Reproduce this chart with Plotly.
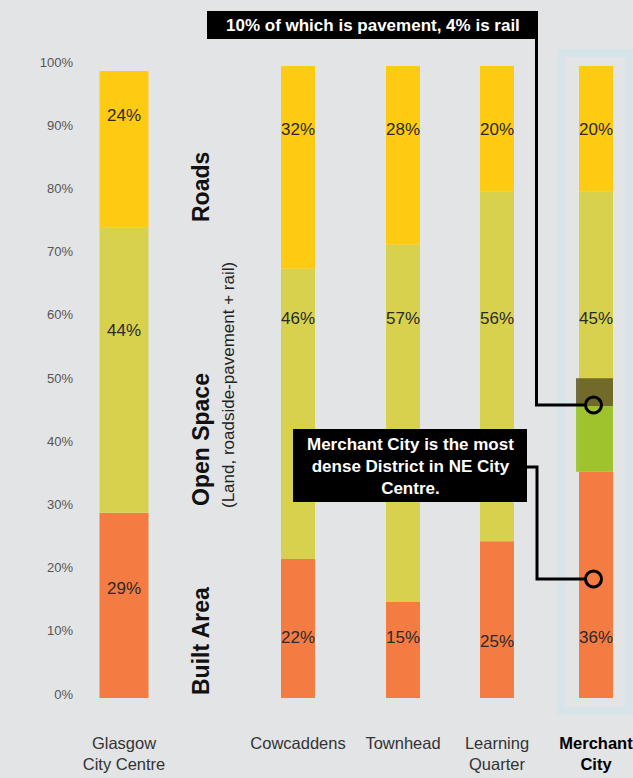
import plotly.graph_objects as go

# ---------------- data ----------------
districts = ["Glasgow<br>City Centre", "Cowcaddens", "Townhead", "Learning<br>Quarter",
             "<b><span style='color:#000'>Merchant<br>City</span></b>"]
built_area = [29.3, 22.0, 15.2, 24.8, 35.8]
open_space = [45.2, 45.9, 56.5, 55.4, 44.4]
roads = [24.7, 32.1, 28.3, 19.8, 19.8]
built_labels = ["29%", "22%", "15%", "25%", "36%"]
open_labels = ["44%", "46%", "57%", "56%", "45%"]
roads_labels = ["24%", "32%", "28%", "20%", "20%"]
mc_pavement = 10.4   # Merchant City open space: pavement
mc_rail = 4.4        # Merchant City open space: rail
y_ticks = [0, 10, 20, 30, 40, 50, 60, 70, 80, 90, 100]
y_tick_labels = [f"{v}%" for v in y_ticks]

# ---------------- layout helpers ----------------
x_pos = [124, 298, 403, 497, 596]
widths = [49, 34, 34, 34, 34]
label_levels = [[17.4, 58.2, 92.2], [9.6, 60.1, 90], [9.6, 60.1, 90], [8.9, 60.1, 90], [9.6, 60.1, 90]]

W, H = 633, 778
L, R, T, B = 80, 0, 40, 58
PW, PH = W - L - R, H - T - B


def PX(x):
    return (x - L) / PW


def PY(y):
    return (H - B - y) / PH


BG = "#e3e4e6"
ORANGE = "#f47c42"
OLIVE = "#d8d14d"
YELLOW = "#fecb12"
FONT = "Liberation Sans, Arial, sans-serif"

fig = go.Figure()
base_open = built_area
base_roads = [b + o for b, o in zip(built_area, open_space)]
fig.add_bar(x=x_pos, y=built_area, base=[0] * 5, width=widths, marker_color=ORANGE,
            marker_line_width=0, name="Built Area")
fig.add_bar(x=x_pos, y=open_space, base=base_open, width=widths, marker_color=OLIVE,
            marker_line_width=0, name="Open Space")
fig.add_bar(x=x_pos, y=roads, base=base_roads, width=widths, marker_color=YELLOW,
            marker_line_width=0, name="Roads")
# Merchant City breakdown overlay
fig.add_bar(x=[x_pos[4] - 1.5], y=[mc_pavement], base=[built_area[4]], width=[37],
            marker_color="rgba(150,192,40,0.88)", marker_line_width=0, name="Pavement")
fig.add_bar(x=[x_pos[4] - 1.5], y=[mc_rail], base=[built_area[4] + mc_pavement], width=[37],
            marker_color="rgba(95,88,35,0.86)", marker_line_width=0, name="Rail")

annotations = []
for i in range(5):
    for lab, lev in zip([built_labels[i], open_labels[i], roads_labels[i]], label_levels[i]):
        annotations.append(dict(x=x_pos[i], y=lev, xref="x", yref="y", text=lab, showarrow=False,
                                xanchor="center", yanchor="middle",
                                font=dict(family=FONT, size=17, color="#2a2a2a")))


def paper_text(text, x, y, size, color, angle=None):
    d = dict(x=PX(x), y=PY(y), xref="paper", yref="paper", text=text, showarrow=False,
             xanchor="center", yanchor="middle", font=dict(family=FONT, size=size, color=color))
    if angle is not None:
        d["textangle"] = angle
    return d


for txt, x, y in [("<b>Roads</b>", 201, 187), ("<b>Open Space</b>", 201, 440), ("<b>Built Area</b>", 201, 641)]:
    annotations.append(paper_text(txt, x, y, 23, "#111", -90))
annotations.append(paper_text("(Land, roadside-pavement + rail)", 228, 385, 17, "#222", -90))
annotations.append(paper_text("<b>10% of which is pavement, 4% is rail</b>", 372.5, 25, 17, "white"))
annotations.append(paper_text("<b>Merchant City is the most<br>dense District in NE City<br>Centre.</b>",
                              410, 466, 17, "white"))

shapes = [
    dict(type="rect", xref="paper", yref="paper", x0=PX(561), x1=PX(629), y0=PY(53), y1=PY(711),
         line=dict(color="#d7e5eb", width=8), fillcolor="rgba(0,0,0,0)", layer="below"),
    dict(type="rect", xref="paper", yref="paper", x0=PX(207), x1=PX(538), y0=PY(11), y1=PY(39),
         line=dict(width=0), fillcolor="black"),
    dict(type="rect", xref="paper", yref="paper", x0=PX(293), x1=PX(527), y0=PY(429), y1=PY(502),
         line=dict(width=0), fillcolor="black"),
    dict(type="path", xref="paper", yref="paper",
         path=f"M {PX(536.5)},{PY(11)} L {PX(536.5)},{PY(405)} L {PX(586)},{PY(405)}",
         line=dict(color="black", width=3)),
    dict(type="path", xref="paper", yref="paper",
         path=f"M {PX(527)},{PY(467)} L {PX(537)},{PY(467)} L {PX(537)},{PY(579)} L {PX(586)},{PY(579)}",
         line=dict(color="black", width=3)),
]
for cy in (405, 579):
    shapes.append(dict(type="circle", xref="paper", yref="paper", xsizemode="pixel", ysizemode="pixel",
                       xanchor=PX(593.5), yanchor=PY(cy), x0=-8, x1=8, y0=-8, y1=8,
                       line=dict(color="black", width=3), fillcolor="rgba(0,0,0,0)"))

fig.update_layout(
    width=W, height=H, margin=dict(l=L, r=R, t=T, b=B),
    paper_bgcolor=BG, plot_bgcolor=BG, barmode="overlay", showlegend=False,
    font=dict(family=FONT),
    annotations=annotations, shapes=shapes,
    xaxis=dict(range=[L, W], tickvals=x_pos, ticktext=districts, showgrid=False, zeroline=False,
               showline=False, ticks="", ticklabelstandoff=11, automargin=False, tickangle=0,
               ticklabeloverflow="allow",
               tickfont=dict(family=FONT, size=16.5, color="#333")),
    yaxis=dict(range=[-22 / 6.32, -22 / 6.32 + PH / 6.32], tickvals=y_ticks, ticktext=y_tick_labels,
               showgrid=False, zeroline=False, showline=False, ticks="", ticklabelstandoff=6,
               ticklabelshift=-4, automargin=False,
               tickfont=dict(family=FONT, size=13, color="#555")),
)

fig.write_html("out.html", post_script="document.body.style.margin='0';",
               config={"displayModeBar": False})
